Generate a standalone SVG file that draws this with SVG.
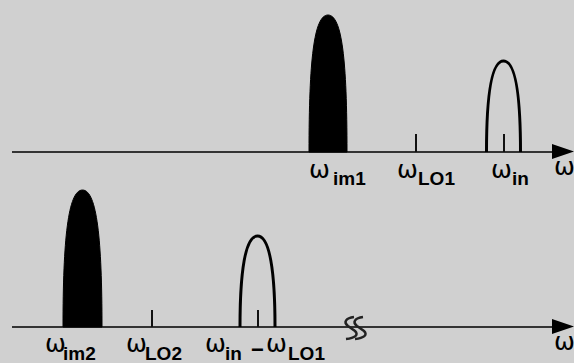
<svg xmlns="http://www.w3.org/2000/svg" width="574" height="363" viewBox="0 0 574 363">
<style>
.axis{stroke:#333;stroke-width:2;fill:none}
.tick{stroke:#111;stroke-width:2;fill:none}
.solid{fill:#000;stroke:#000;stroke-width:1}
.open{fill:none;stroke:#000;stroke-width:3}
.w{font-family:"DejaVu Sans",sans-serif;font-size:25px;fill:#000}
.s{font-family:"Liberation Sans",Arial,sans-serif;font-size:19px;font-weight:bold;fill:#000}
.brk{fill:none;stroke:#222;stroke-width:2.5}
</style>
<rect width="574" height="363" fill="#d0d0d0"/>
<g id="axes">
<line class="axis" x1="12" y1="152" x2="556" y2="152"/>
<polygon points="552,144 574,151.5 552,159" fill="#000"/>
<line class="axis" x1="12" y1="327" x2="556" y2="327"/>
<polygon points="552,319 574,326.5 552,334" fill="#000"/>
</g>
<g id="top-spectrum">
<path class="solid" d="M309 152 C309 60 314 15 328 15 C342 15 347 60 347 152 Z"/>
<line class="tick" x1="416" y1="134" x2="416" y2="152"/>
<path class="open" d="M486.5 152 C486.5 92 492 61 503.5 61 C515 61 520.5 92 520.5 152"/>
<line class="tick" x1="504" y1="134" x2="504" y2="152"/>
</g>
<g id="bottom-spectrum">
<path class="solid" d="M63 327 C63 240 68 190 82.5 190 C97 190 102 240 102 327 Z"/>
<line class="tick" x1="152" y1="310" x2="152" y2="327"/>
<path class="open" d="M240 327 C240 272 245 236 257.5 236 C270 236 275 272 275 327"/>
<line class="tick" x1="258" y1="310" x2="258" y2="327"/>
<g id="break">
<path class="brk" d="M354 317 C346 318 343 322 348 326 L355 331 C359 335 355 338 346 339"/>
<path class="brk" d="M363 317 C355 318 352 322 357 326 L364 331 C368 335 364 338 355 339"/>
</g>
</g>
<g id="labels-top">
<text class="w" x="309" y="178">ω</text><text class="s" x="333" y="185">im1</text>
<text class="w" x="397" y="178">ω</text><text class="s" x="418" y="185">LO1</text>
<text class="w" x="491" y="178">ω</text><text class="s" x="512" y="185">in</text>
<text class="w" x="554" y="175">ω</text>
</g>
<g id="labels-bottom">
<text class="w" x="45" y="352">ω</text><text class="s" x="63" y="360">im2</text>
<text class="w" x="126" y="352">ω</text><text class="s" x="145" y="360">LO2</text>
<text class="w" x="205" y="352">ω</text><text class="s" x="225" y="360">in</text>
<text class="s" x="251" y="357" style="font-size:22px">−</text>
<text class="w" x="266" y="352">ω</text><text class="s" x="288" y="360">LO1</text>
<text class="w" x="554" y="350">ω</text>
</g>
</svg>
